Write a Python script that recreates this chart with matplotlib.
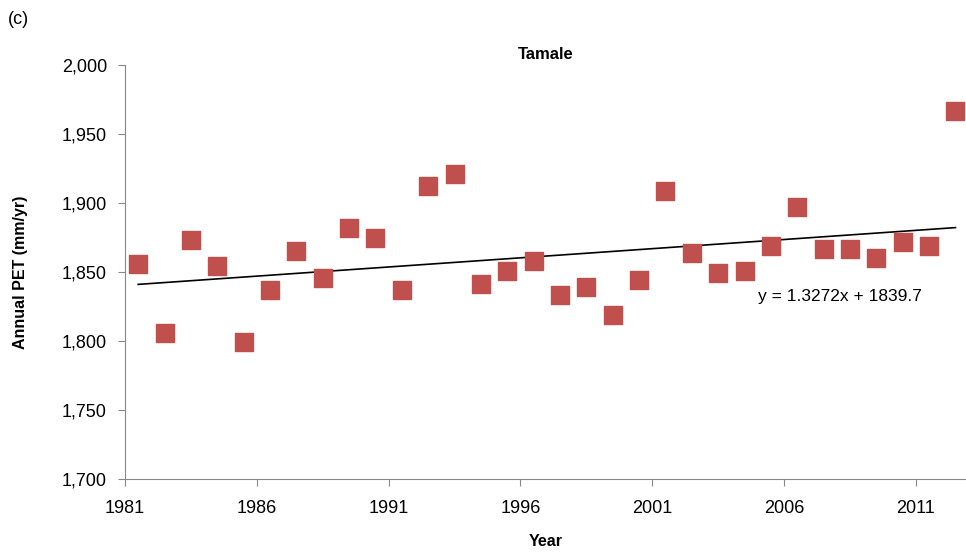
import numpy as np
import matplotlib.pyplot as plt
from matplotlib.ticker import FuncFormatter

plt.rcParams['font.family'] = ['Liberation Sans', 'DejaVu Sans']

# data
years = np.arange(1981, 2013)
pet = [1856, 1806, 1873, 1854, 1799, 1837, 1865, 1846, 1882, 1875,
       1837, 1912, 1921, 1841, 1851, 1858, 1833, 1839, 1819, 1844,
       1909, 1864, 1849, 1851, 1869, 1897, 1867, 1867, 1860, 1872,
       1869, 1967]
tick_years = np.arange(1981, 2012, 5)
slope, intercept = 1.3272, 1839.7

fig = plt.figure(figsize=(9.66, 5.59), dpi=100)
ax = fig.add_axes([125 / 966, 80 / 559, 841 / 966, 414 / 559])

ax.scatter(years, pet, marker='s', s=170, color='#c0504d', zorder=3)
idx = np.arange(1, len(years) + 1)
ax.plot(years, slope * idx + intercept, color='black', lw=1.2)

# category-style axis: tick sits at the left edge of each year slot
ax.set_xlim(1980.5, 2012.4)
ax.set_xticks(tick_years - 0.5)
ax.set_xticklabels([str(y) for y in tick_years])
ax.set_ylim(1700, 2000)
ax.set_yticks(np.arange(1700, 2001, 50))
ax.yaxis.set_major_formatter(FuncFormatter(lambda v, p: f'{int(v):,}'))
ax.tick_params(labelsize=13, direction='out', length=5, color='#888888')
ax.tick_params(axis='x', pad=10)
ax.tick_params(axis='y', pad=8)
for s in ['top', 'right']:
    ax.spines[s].set_visible(False)
for s in ['left', 'bottom']:
    ax.spines[s].set_color('#888888')

ax.set_xlabel('Year', fontsize=11.5, fontweight='bold', labelpad=12)
ax.set_ylabel('Annual PET (mm/yr)', fontsize=11.5, fontweight='bold', labelpad=24)
ax.text(0.5, 1.025, 'Tamale', transform=ax.transAxes, ha='center', va='center',
        fontsize=12, fontweight='bold')
ax.text(0.753, 0.43, 'y = 1.3272x + 1839.7', transform=ax.transAxes,
        fontsize=12.5)
fig.text(8 / 966, 1 - 24 / 559, '(c)', fontsize=13)

fig.savefig('out.png', dpi=100)
